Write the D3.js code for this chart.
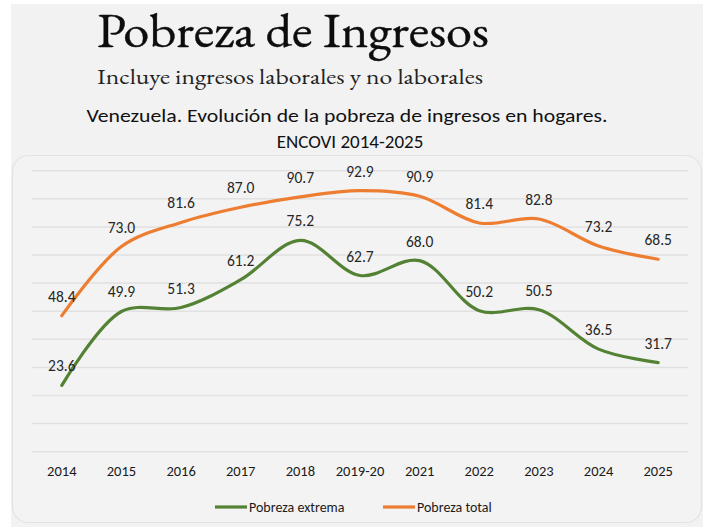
<!DOCTYPE html>
<html>
<head>
<meta charset="utf-8">
<script src="https://cdn.jsdelivr.net/npm/d3@7"></script>
<style>
  body { margin: 0; background: #fff; }
  svg { display: block; }
</style>
</head>
<body>
<script>
// categories and series
var years = ["2014", "2015", "2016", "2017", "2018", "2019-20", "2021", "2022", "2023", "2024", "2025"];
var extrema = [23.6, 49.9, 51.3, 61.2, 75.2, 62.7, 68.0, 50.2, 50.5, 36.5, 31.7];
var total = [48.4, 73.0, 81.6, 87.0, 90.7, 92.9, 90.9, 81.4, 82.8, 73.2, 68.5];
var gridTicks = [0, 10, 20, 30, 40, 50, 60, 70, 80, 90, 100];

var w = 708, h = 527;
var sans = "Carlito, Calibri, Lato, 'Open Sans', sans-serif";
var serif = "'EB Garamond', Garamond, 'Liberation Serif', 'DejaVu Serif', serif";

var svg = d3.select("body").append("svg")
  .attr("width", w)
  .attr("height", h);

// gray page + chart box
svg.append("rect")
  .attr("x", 11).attr("y", 4)
  .attr("width", 692).attr("height", 523)
  .attr("fill", "#f2f2f2");

svg.append("rect")
  .attr("x", 12.5).attr("y", 155.5)
  .attr("width", 689).attr("height", 367)
  .attr("rx", 16)
  .attr("fill", "#f3f3f3")
  .attr("stroke", "#e3e3e3")
  .attr("stroke-width", 1.2);

// titles
svg.append("text")
  .attr("x", 97).attr("y", 47)
  .attr("font-family", serif)
  .attr("font-size", 48)
  .attr("fill", "#0d0d0d")
  .attr("stroke", "#0d0d0d")
  .attr("stroke-width", 0.4)
  .attr("textLength", 392)
  .attr("lengthAdjust", "spacingAndGlyphs")
  .text("Pobreza de Ingresos");

svg.append("text")
  .attr("x", 97).attr("y", 84)
  .attr("font-family", serif)
  .attr("font-size", 22)
  .attr("fill", "#222")
  .attr("textLength", 386)
  .attr("lengthAdjust", "spacingAndGlyphs")
  .text("Incluye ingresos laborales y no laborales");

svg.append("text")
  .attr("x", 347).attr("y", 122)
  .attr("text-anchor", "middle")
  .attr("font-family", sans)
  .attr("font-size", 19)
  .attr("fill", "#111")
  .attr("textLength", 521)
  .attr("lengthAdjust", "spacingAndGlyphs")
  .text("Venezuela. Evolución de la pobreza de ingresos en hogares.");

svg.append("text")
  .attr("x", 350).attr("y", 148)
  .attr("text-anchor", "middle")
  .attr("font-family", sans)
  .attr("font-size", 19)
  .attr("fill", "#111")
  .text("ENCOVI 2014-2025");

// scales
var x = d3.scaleBand()
  .domain(years)
  .range([32, 688]);

var y = d3.scaleLinear()
  .domain([0, 100])
  .range([451.7, 170.7]);

// gridlines
svg.append("g")
  .selectAll("line")
  .data(gridTicks)
  .enter()
  .append("line")
  .attr("x1", 32).attr("x2", 688)
  .attr("y1", function(d) { return y(d); })
  .attr("y2", function(d) { return y(d); })
  .attr("stroke", "#e1e1e1")
  .attr("stroke-width", 1.5);

// x axis labels
var xAxis = d3.axisBottom(x).tickSize(0).tickPadding(0);
var gx = svg.append("g")
  .attr("transform", "translate(0,465)")
  .call(xAxis);
gx.select(".domain").remove();
gx.selectAll("text")
  .attr("font-family", sans)
  .attr("font-size", 14.5)
  .attr("fill", "#1a1a1a")
  .attr("dy", "0.75em");

var cx = function(i) { return x(years[i]) + x.bandwidth() / 2; };

var line = d3.line()
  .x(function(d, i) { return cx(i); })
  .y(function(d) { return y(d); })
  .curve(d3.curveCatmullRom.alpha(0.5));

var series = [
  { name: "Pobreza extrema", values: extrema, color: "#548235" },
  { name: "Pobreza total", values: total, color: "#ED7D31" }
];

series.forEach(function(s) {
  svg.append("path")
    .datum(s.values)
    .attr("d", line)
    .attr("fill", "none")
    .attr("stroke", s.color)
    .attr("stroke-width", 3.2)
    .attr("stroke-linecap", "round");

  svg.append("g")
    .selectAll("text")
    .data(s.values)
    .enter()
    .append("text")
    .attr("x", function(d, i) { return cx(i); })
    .attr("y", function(d) { return y(d) - 14; })
    .attr("text-anchor", "middle")
    .attr("font-family", sans)
    .attr("font-size", 15.5)
    .attr("fill", "#262626")
    .text(function(d) { return d.toFixed(1); });
});

// legend
var legend = svg.append("g").attr("transform", "translate(0,507)");
var legendX = [215, 383];
series.forEach(function(s, i) {
  legend.append("line")
    .attr("x1", legendX[i]).attr("x2", legendX[i] + 32)
    .attr("y1", 0).attr("y2", 0)
    .attr("stroke", s.color)
    .attr("stroke-width", 3.2);
  legend.append("text")
    .attr("x", legendX[i] + 34)
    .attr("y", 0)
    .attr("dy", "0.35em")
    .attr("font-family", sans)
    .attr("font-size", 14)
    .attr("fill", "#1a1a1a")
    .text(s.name);
});
</script>
</body>
</html>
